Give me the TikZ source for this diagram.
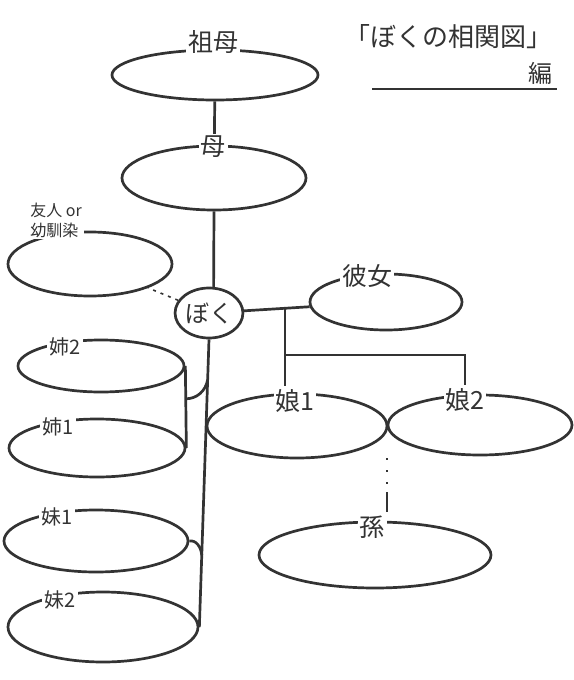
\documentclass[tikz,border=0pt]{standalone}
\usepackage{fontspec}
\setmainfont{Noto Sans CJK JP}
\usetikzlibrary{shapes.geometric,calc}

\begin{document}
\begin{tikzpicture}[
    x=1pt, y=-1pt,
    line width=2.7pt,
    color=black!80,
    person/.style={ellipse, draw, inner sep=0pt},
    tag/.style={fill=white, inner sep=2pt, font=\fontsize{25}{28}\selectfont},
    sibtag/.style={tag, font=\fontsize{20}{24}\selectfont},
    hint/.style={dash pattern=on 2pt off 10pt on 2pt off 10pt on 2pt off 8pt on 40pt off 0pt}
]
  \useasboundingbox (0,0) rectangle (573,680);

  \node[person, minimum width=206, minimum height=50] (sobo) at (215,75) {};
  \node[person, minimum width=184, minimum height=64] (haha) at (214,178) {};
  \node[person, minimum width=164, minimum height=64] (yujin) at (90,264) {};
  \node[person, minimum width=64, minimum height=50,
        font=\fontsize{24}{28}\selectfont] (boku) at (209,313) {ぼく};
  \node[person, minimum width=152, minimum height=56] (kanojo) at (386,302) {};
  \node[person, minimum width=180, minimum height=64] (musume1) at (297,426) {};
  \node[person, minimum width=184, minimum height=60] (musume2) at (480,425) {};
  \node[person, minimum width=232, minimum height=66] (mago) at (375,555) {};
  \node[person, minimum width=166, minimum height=52] (ane2) at (101,366) {};
  \node[person, minimum width=176, minimum height=58] (ane1) at (97,448) {};
  \node[person, minimum width=184, minimum height=62] (imo1) at (96,541) {};
  \node[person, minimum width=190, minimum height=70] (imo2) at (103,627) {};

  \coordinate (j) at (285,308);
  \coordinate (kids) at (285,355);
  \coordinate (gap) at (387,458);

  \draw (sobo) -- (haha);
  \draw (haha.south) -- (boku.80);
  \draw (boku) -- (kanojo);
  \draw[line width=1.6pt, dash pattern=on 3pt off 5pt] (boku) -- (yujin);
  \draw (boku.south) -- coordinate[pos=0.14] (aneFork)
        coordinate[pos=0.75] (imoFork) (imo2.east);
  \coordinate (aneJ) at ($(ane2.east)!0.4!(ane1.east)$);
  \draw (ane2.east) -- (ane1.east);
  \draw (aneFork) to[out=-100, in=0] (aneJ);
  \draw (imo1.east) to[out=10, in=95] (imoFork);

  \node[tag] (sobo-t) at (213,42) {祖母};
  \node[tag] (haha-t) at (213,147) {母};
  \node[tag] (kanojo-t) at (367,276) {彼女};
  \node[tag] (m1-t) at (295,401) {娘1};
  \node[tag] (m2-t) at (465,400) {娘2};
  \node[tag] (mago-t) at (372,527) {孫};
  \node[sibtag] (ane2-t) at (65,347) {姉2};
  \node[sibtag] (ane1-t) at (58,427) {姉1};
  \node[sibtag] (imo1-t) at (57,517) {妹1};
  \node[sibtag] (imo2-t) at (60,600) {妹2};
  \node[tag, align=left, font=\fontsize{16}{20}\selectfont] (yujin-t) at (56,220)
    {友人 or\\幼馴染};

  \draw (j) -- (j |- m1-t.north);
  \draw (kids) -| (m2-t.north);
  \draw[hint] (gap) -- (gap |- mago-t.north);

  \node[font=\fontsize{26}{30}\selectfont] (title) at (448,37) {「ぼくの相関図」};
  \node[font=\fontsize{24}{28}\selectfont] (hen) at (540,73) {編};
  \coordinate (ul) at (372,89);
  \draw[line width=1.8pt] (ul) -- (ul -| hen.east);
\end{tikzpicture}
\end{document}
